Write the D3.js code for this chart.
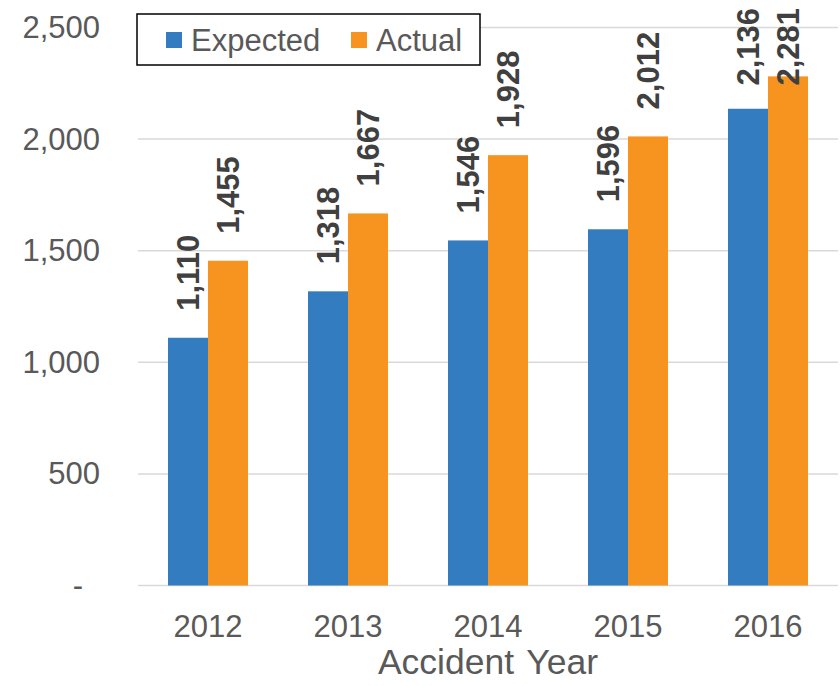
<!DOCTYPE html>
<html>
<head>
<meta charset="utf-8">
<script src="https://cdn.jsdelivr.net/npm/d3@7"></script>
<style>
  html, body { margin: 0; padding: 0; background: #fff; }
  svg { display: block; font-family: "Liberation Sans", Arial, sans-serif; }
</style>
</head>
<body>
<svg id="chart" width="840" height="686"></svg>
<script>
const categories = ["2012", "2013", "2014", "2015", "2016"];
const seriesNames = ["Expected", "Actual"];
const expected = [1110, 1318, 1546, 1596, 2136];
const actual = [1455, 1667, 1928, 2012, 2281];
const yTicks = [0, 500, 1000, 1500, 2000, 2500];
const xTitle = "Accident Year";
const colors = ["#337CBF", "#F7941F"];

(function () {
const svg = d3.select("#chart");
const pLeft = 138, pRight = 838, pTop = 27.5, pBottom = 585.5;

const x = d3.scaleBand().domain(categories).range([pLeft, pRight])
  .paddingInner(60 / 140).paddingOuter(30 / 140);
const xs = d3.scaleBand().domain(seriesNames).range([0, x.bandwidth()]);
const y = d3.scaleLinear().domain([0, 2500]).range([pBottom, pTop]);

// gridlines
svg.append("g").selectAll("line").data(yTicks).join("line")
  .attr("x1", pLeft).attr("x2", pRight)
  .attr("y1", d => y(d)).attr("y2", d => y(d))
  .attr("stroke", "#d9d9d9").attr("stroke-width", 1.5);

// y axis labels
const fmt = d3.format(",");
const yAxis = svg.append("g").attr("transform", `translate(${pLeft},0)`)
  .call(d3.axisLeft(y).tickValues(yTicks).tickSize(0).tickPadding(38)
    .tickFormat(d => d === 0 ? "-" : fmt(d)));
yAxis.select(".domain").remove();
yAxis.selectAll("text").attr("font-size", 31).attr("fill", "#595959")
  .attr("font-family", "Liberation Sans, Arial, sans-serif")
  .attr("dx", d => d === 0 ? -17 : 0);

// x axis labels
const xAxis = svg.append("g").attr("transform", `translate(0,${pBottom})`)
  .call(d3.axisBottom(x).tickSize(0).tickPadding(29.5));
xAxis.select(".domain").remove();
xAxis.selectAll("text").attr("font-size", 31).attr("fill", "#595959")
  .attr("font-family", "Liberation Sans, Arial, sans-serif");

// axis title
svg.append("text").attr("x", (pLeft + pRight) / 2).attr("y", 674)
  .attr("text-anchor", "middle").attr("font-size", 35.5).attr("fill", "#595959")
  .attr("word-spacing", 3)
  .text(xTitle);

// bars
const data = seriesNames.map((s, i) => ({ name: s, values: i === 0 ? expected : actual, color: colors[i] }));
const groups = svg.append("g").selectAll("g").data(data).join("g").attr("fill", d => d.color);
groups.selectAll("rect").data(d => d.values.map((v, j) => ({ s: d.name, c: categories[j], v })))
  .join("rect")
  .attr("x", d => x(d.c) + xs(d.s))
  .attr("width", xs.bandwidth())
  .attr("y", d => y(d.v))
  .attr("height", d => y(0) - y(d.v));

// value labels
const lab = svg.append("g");
data.forEach(ser => {
  ser.values.forEach((v, j) => {
    const cx = x(categories[j]) + xs(ser.name) + xs.bandwidth() / 2;
    const t = lab.append("text")
      .attr("font-size", 31).attr("font-weight", "bold").attr("fill", "#404040")
      .attr("text-anchor", "start").attr("dy", "0.36em")
      .text(fmt(v));
    const len = t.node().getComputedTextLength();
    const by = Math.max(y(v) - 27, 8 + len);
    t.attr("transform", `translate(${cx},${by}) rotate(-90)`);
  });
});

// legend
const lg = svg.append("g");
lg.append("rect").attr("x", 137).attr("y", 14).attr("width", 343).attr("height", 51)
  .attr("fill", "#fff").attr("stroke", "#000").attr("stroke-width", 1.5);
const legendX = [166, 351];
data.forEach((d, i) => {
  lg.append("rect").attr("x", legendX[i]).attr("y", 32).attr("width", 16).attr("height", 16).attr("fill", d.color);
  lg.append("text").attr("x", legendX[i] + 25).attr("y", 51).attr("font-size", 31)
    .attr("fill", "#595959").text(d.name);
});
})();
</script>
</body>
</html>
